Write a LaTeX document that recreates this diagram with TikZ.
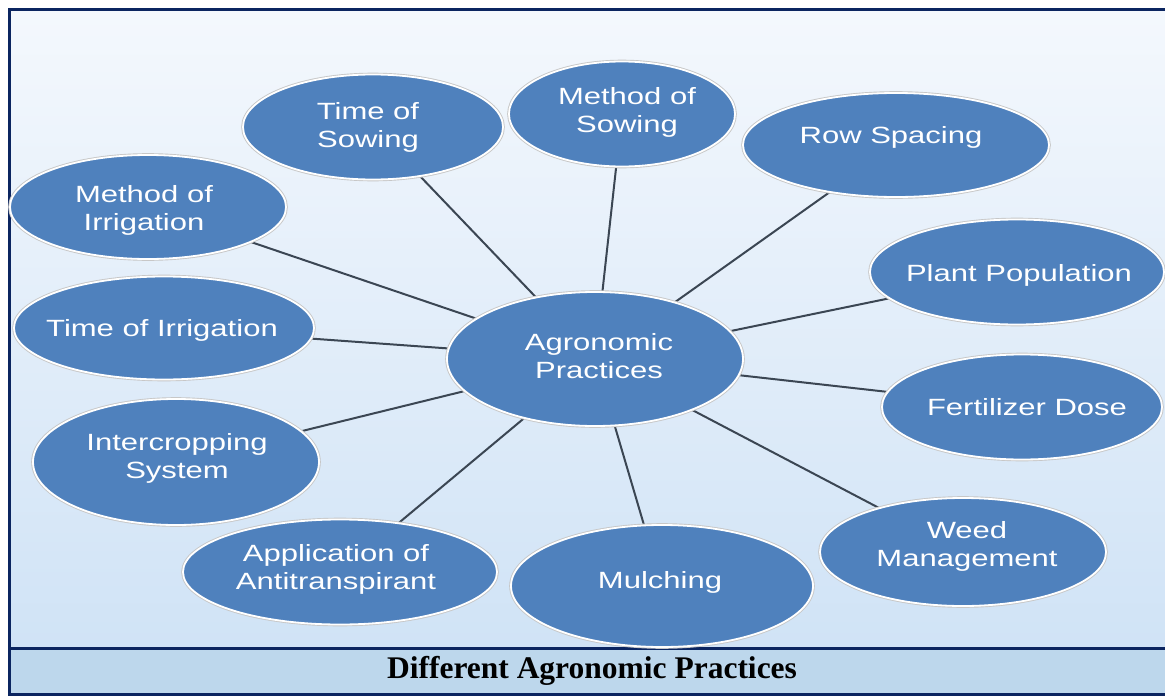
\documentclass[tikz,border=0pt]{standalone}
\usepackage{fontspec}
\setmainfont{Liberation Serif}
\newfontfamily\arialfont[FakeStretch=1.32]{Liberation Sans}
\usetikzlibrary{shapes.geometric}
\definecolor{bubblue}{HTML}{4F81BD}
\definecolor{framenavy}{HTML}{0B2560}
\definecolor{bgtop}{HTML}{F4F8FD}
\definecolor{bgbot}{HTML}{D0E3F6}
\definecolor{capfill}{HTML}{BDD7EC}
\definecolor{linkgray}{HTML}{3B4653}
\pgfdeclarelayer{bg}
\pgfdeclarelayer{links}
\pgfsetlayers{bg,links,main}
\begin{document}
\begin{tikzpicture}[x=1pt,y=-1pt,
  bub/.style n args={2}{ellipse, fill=bubblue, draw=white, line width=1.8pt,
    minimum width=#1pt, minimum height=#2pt, inner sep=0pt,
    preaction={draw=black!22, line width=3.6pt}},
  lbl/.style={text=white, font=\arialfont\fontsize{23.5}{28}\selectfont, align=center},
  link/.style={draw=linkgray, line width=2pt}]
\useasboundingbox (0,0) rectangle (1165,696);
\clip (0,0) rectangle (1165,696);

% panel background, caption band and frame
\begin{pgfonlayer}{bg}
  \fill[top color=bgtop, bottom color=bgbot] (9,9) rectangle (1172,648);
  \fill[capfill] (9,648) rectangle (1172,694);
  \draw[framenavy, line width=3pt] (1172,9) -- (9,9) -- (9,694) -- (1172,694);
  \draw[framenavy, line width=3pt] (9,648) -- (1172,648);
\end{pgfonlayer}

% hub
\node[bub={296}{134}, label={[lbl, xshift=4pt, yshift=3pt]center:Agronomic\\Practices}] (ag) at (595,359) {};

% practices around the hub
\node[bub={260}{105}, label={[lbl, xshift=-5pt]center:Time of\\Sowing}] (ts) at (373,127) {};
\node[bub={226}{105}, label={[lbl, xshift=5pt, yshift=2pt]center:Method of\\Sowing}] (ms) at (622,114) {};
\node[bub={306}{104}, label={[lbl, xshift=-5pt, yshift=8pt]center:Row Spacing}] (rs) at (896,145) {};
\node[bub={276}{104}, label={[lbl, xshift=-4pt, yshift=-3pt]center:Method of\\Irrigation}] (mi) at (148,207) {};
\node[bub={294}{105}, label={[lbl, xshift=2pt, yshift=-3pt]center:Plant Population}] (pp) at (1017,272) {};
\node[bub={300}{103}, label={[lbl, xshift=-2pt, yshift=-2pt]center:Time of Irrigation}] (ti) at (164,328) {};
\node[bub={280}{105}, label={[lbl, xshift=5pt]center:Fertilizer Dose}] (fd) at (1022,407) {};
\node[bub={286}{126}, label={[lbl, xshift=1pt, yshift=4pt]center:Intercropping\\System}] (ic) at (176,462) {};
\node[bub={286}{108}, label={[lbl, xshift=4pt, yshift=6pt]center:Weed\\Management}] (wm) at (963,552) {};
\node[bub={314}{105}, label={[lbl, xshift=-4pt, yshift=3pt]center:Application of\\Antitranspirant}] (aa) at (340,572) {};
\node[bub={302}{122}, label={[lbl, xshift=-2pt, yshift=4pt]center:Mulching}] (mu) at (662,586) {};

% spokes, drawn centre to centre behind the bubbles
\begin{pgfonlayer}{links}
  \foreach \n in {ts,ms,rs,mi,pp,ti,fd,ic,wm,aa,mu}
    \draw[link] (ag.center) -- (\n.center);
\end{pgfonlayer}

% caption
\node[font=\bfseries\fontsize{31.5}{34}\selectfont] (cap) at (592,671) {Different Agronomic Practices};
\end{tikzpicture}
\end{document}
